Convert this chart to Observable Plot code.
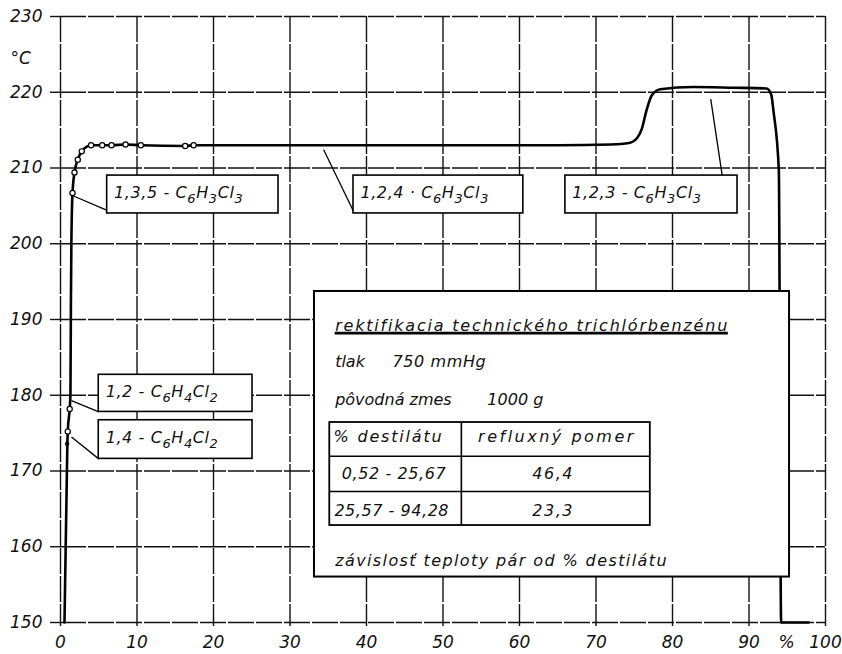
<!DOCTYPE html>
<html><head><meta charset="utf-8">
<script src="https://cdn.jsdelivr.net/npm/d3@7"></script>
<script src="https://cdn.jsdelivr.net/npm/@observablehq/plot@0.6"></script>
<style>
body{margin:0;background:#fff}
#chart svg{font-family:"DejaVu Sans",sans-serif;font-style:italic;overflow:visible}
</style>
</head><body><div id="chart"></div>
<script>
// ---- data ----
const distillate  = [0.52, 0.9, 0.95, 1.2, 1.3, 1.36, 1.42, 1.57, 1.83, 2.26, 2.78, 4.0, 5.45, 6.67, 8.5, 10.5, 16.3, 17.4, 30, 40.5, 50, 56.6, 65, 72, 74.3, 75.4, 76.0, 76.6, 77.3, 78.4, 82.7, 88, 92.3, 92.9, 93.2, 93.9, 94.2, 97.8];
const temperature = [150, 173.8, 175.2, 178.2, 180.2, 192, 200, 206.7, 209.4, 211.1, 212.2, 213.0, 213.0, 213.0, 213.1, 213.0, 212.9, 213.0, 213.0, 213.0, 213.0, 213.0, 213.0, 213.1, 213.3, 214.0, 215.2, 217.6, 219.6, 220.4, 220.7, 220.6, 220.5, 219.7, 217.5, 209.7, 150, 150];
const markerX = [0.95, 1.2, 1.57, 1.83, 2.26, 2.78, 4.0, 5.45, 6.67, 8.5, 10.5, 16.3, 17.4];
const markerY = [175.2, 178.2, 206.7, 209.4, 211.1, 212.2, 213.0, 213.0, 213.0, 213.1, 213.0, 212.9, 213.0];
const xTicks = [0, 10, 20, 30, 40, 50, 60, 70, 80, 90, 100];
const yTicks = [150, 160, 170, 180, 190, 200, 210, 220, 230];

// component labels (formula with _n = subscript) and their box / leader anchors in data units
const labelText = ["1,3,5 - C_6H_3Cl_3", "1,2,4 · C_6H_3Cl_3", "1,2,3 - C_6H_3Cl_3", "1,2 - C_6H_4Cl_2", "1,4 - C_6H_4Cl_2"];
const boxX1 = [6.1, 38.3, 66.0, 5.0, 5.0];
const boxX2 = [28.5, 60.5, 88.5, 25.1, 25.1];
const boxY1 = [204.0, 204.0, 204.0, 177.8, 171.6];
const boxY2 = [209.0, 209.0, 209.0, 182.7, 176.7];
const leadX1 = [1.7, 34.4, 85.0, 1.44, 1.44];
const leadY1 = [206.3, 212.4, 219.1, 179.3, 174.5];
const leadX2 = [6.1, 38.3, 86.5, 5.0, 5.0];
const leadY2 = [204.4, 204.3, 209.0, 177.8, 171.6];

// info panel
const infoTitle = "rektifikacia technického trichlórbenzénu";
const infoLines = ["tlak", "750 mmHg", "pôvodná zmes", "1000 g", "závislosť teploty pár od % destilátu"];
const infoLineX = [35.9, 43.4, 35.9, 55.8, 35.9];
const infoLineY = [184.4, 184.4, 179.4, 179.4, 158.2];
const tableHeader = ["% destilátu", "refluxný pomer"];
const tableRange = ["0,52 - 25,67", "25,57 - 94,28"];
const tableReflux = ["46,4", "23,3"];

// ---- build tables ----
const curve = distillate.map((x, i) => ({x, y: temperature[i]}));
const markers = markerX.map((x, i) => ({x, y: markerY[i]}));
const labels = labelText.map((t, i) => ({t, x1: boxX1[i], x2: boxX2[i], y1: boxY1[i], y2: boxY2[i],
  lx1: leadX1[i], ly1: leadY1[i], lx2: leadX2[i], ly2: leadY2[i], tx: boxX1[i] + 0.9, ty: (boxY1[i] + boxY2[i]) / 2 + 0.25}));
const info = infoLines.map((t, i) => ({t, x: infoLineX[i], y: infoLineY[i]}));
const panel = [{x1: 33.2, x2: 95.3, y1: 156.0, y2: 193.7}];
const table = [{x1: 35.2, x2: 77.1, y1: 162.8, y2: 176.4}];
const tableRows = [171.95, 167.3];
const headCells = [{t: tableHeader[0], x: 35.7, y: 174.55}];
const centerHead = [{t: tableHeader[1], x: 64.9, y: 174.55}];
const valueCells = [
  {t: tableRange[0], x: 43.6, y: 169.6},
  {t: tableReflux[0], x: 64.4, y: 169.6},
  {t: tableRange[1], x: 43.3, y: 164.8},
  {t: tableReflux[1], x: 64.4, y: 164.8}
];

// letter spacing (px) of the hand-lettered texts
const spacing = new Map([
  [infoTitle, 1.8], ["750 mmHg", 0.6], [infoLines[4], 1.4], [tableHeader[0], 1.8], [tableHeader[1], 2.5],
  [tableRange[0], 0.6], [tableRange[1], 0.55], [tableReflux[0], 1.5], [tableReflux[1], 1.5]
]);

const grid = {stroke: "#111", strokeWidth: 1.4, strokeOpacity: 1};

const svg = Plot.plot({
  width: 842, height: 654,
  marginLeft: 60, marginRight: 17, marginTop: 16, marginBottom: 32,
  x: {domain: [0, 100]},
  y: {domain: [150, 230]},
  style: {fontSize: "17px", color: "#111", background: "#fff"},
  marks: [
    Plot.ruleX(xTicks, {...grid, strokeDasharray: "26 2"}),
    Plot.ruleY(yTicks, {...grid, strokeDasharray: "26 2"}),
    Plot.axisY({ticks: yTicks, tickSize: 10, tickPadding: 8, fontSize: 17, label: null, strokeWidth: 1.4}),
    Plot.axisX({ticks: xTicks, tickSize: 4, tickPadding: 9, fontSize: 17, label: null, strokeWidth: 1.4}),
    Plot.text(["°C"], {x: -5.2, y: 224.4, text: d => d, fontSize: 17, textAnchor: "middle"}),
    Plot.text(["%"], {x: 94.9, y: 147.4, text: d => d, fontSize: 17, textAnchor: "middle"}),
    Plot.line(curve, {x: "x", y: "y", stroke: "#000", strokeWidth: 2.6, curve: "monotone-x"}),
    Plot.dot(markers, {x: "x", y: "y", r: 2.6, fill: "#fff", stroke: "#000", strokeWidth: 1.2}),
    Plot.dot([{x: 0.87, y: 173.6}], {x: "x", y: "y", r: 2.2, fill: "#000"}),
    // component labels
    Plot.link(labels, {x1: "lx1", y1: "ly1", x2: "lx2", y2: "ly2", stroke: "#000", strokeWidth: 1.3}),
    Plot.rect(labels, {x1: "x1", x2: "x2", y1: "y1", y2: "y2", fill: "#fff", stroke: "#000", strokeWidth: 1.6}),
    Plot.text(labels, {x: "tx", y: "ty", text: "t", textAnchor: "start", fontSize: 16}),
    // info panel
    Plot.rect(panel, {x1: "x1", x2: "x2", y1: "y1", y2: "y2", fill: "#fff", stroke: "#000", strokeWidth: 2}),
    Plot.text([infoTitle], {x: 35.9, y: 189.2, text: d => d, textAnchor: "start", fontSize: 16}),
    Plot.ruleY([188.2], {x1: 35.9, x2: 87.3, stroke: "#000", strokeWidth: 2.6}),
    Plot.text(info, {x: "x", y: "y", text: "t", textAnchor: "start", fontSize: 16}),
    Plot.rect(table, {x1: "x1", x2: "x2", y1: "y1", y2: "y2", fill: "none", stroke: "#000", strokeWidth: 1.8}),
    Plot.ruleY(tableRows, {x1: 35.2, x2: 77.1, stroke: "#000", strokeWidth: 1.6}),
    Plot.ruleX([52.4], {y1: 162.8, y2: 176.4, stroke: "#000", strokeWidth: 1.6}),
    Plot.text(headCells, {x: "x", y: "y", text: "t", textAnchor: "start", fontSize: 16}),
    Plot.text(centerHead, {x: "x", y: "y", text: "t", textAnchor: "middle", fontSize: 16}),
    Plot.text(valueCells, {x: "x", y: "y", text: "t", textAnchor: "middle", fontSize: 16})
  ]
});

d3.select(svg).selectAll("text").each(function () {
  const t = this.textContent;
  if (spacing.has(t)) this.setAttribute("letter-spacing", spacing.get(t));
  // subscripts in the chemical formulas
  if (!/_\d/.test(t)) return;
  this.setAttribute("letter-spacing", 0.6);
  this.textContent = "";
  const sel = d3.select(this);
  let shifted = false;
  for (const p of t.split(/(_\d)/)) {
    if (!p) continue;
    if (p[0] === "_") {
      sel.append("tspan").attr("font-size", 13).attr("dy", shifted ? 0 : 5).text(p.slice(1));
      shifted = true;
    } else {
      sel.append("tspan").attr("dy", shifted ? -5 : 0).text(p);
      shifted = false;
    }
  }
});

document.getElementById("chart").append(svg);
</script>
</body></html>
